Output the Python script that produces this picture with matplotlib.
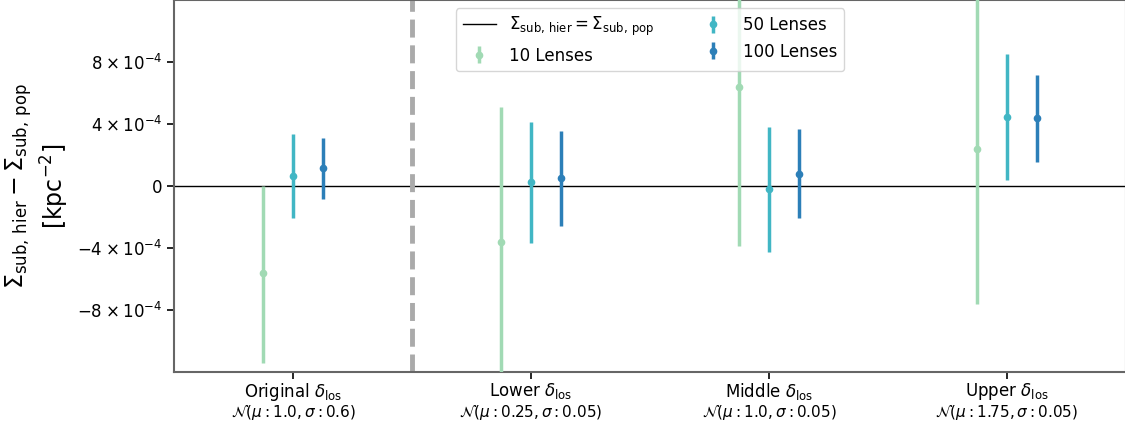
import matplotlib.pyplot as plt
import numpy as np

# categories and priors
categories = [r'Original $\delta_{\rm los}$', r'Lower $\delta_{\rm los}$',
              r'Middle $\delta_{\rm los}$', r'Upper $\delta_{\rm los}$']
priors = [r'$\mathcal{N}(\mu: 1.0, \sigma: 0.6)$', r'$\mathcal{N}(\mu: 0.25, \sigma: 0.05)$',
          r'$\mathcal{N}(\mu: 1.0, \sigma: 0.05)$', r'$\mathcal{N}(\mu: 1.75, \sigma: 0.05)$']

# medians and 1-sigma bounds (units 1e-4 kpc^-2)
med_10 = [-5.59, -3.6, 6.37, 2.41]
lo_10 = [-11.42, -13.5, -3.85, -7.63]
hi_10 = [0.0, 5.12, 13.5, 13.5]

med_50 = [0.66, 0.28, -0.21, 4.43]
lo_50 = [-2.08, -3.68, -4.28, 0.37]
hi_50 = [3.35, 4.15, 3.83, 8.52]

med_100 = [1.14, 0.50, 0.80, 4.39]
lo_100 = [-0.84, -2.58, -2.04, 1.57]
hi_100 = [3.12, 3.55, 3.66, 7.18]

labels = ['10 Lenses', '50 Lenses', '100 Lenses']
colors = ['#a1dab4', '#41b6c4', '#2c7fb8']
offsets = [-0.125, 0.0, 0.125]

fig = plt.figure(figsize=(11.25, 4.23), dpi=100)
ax = fig.add_axes([174 / 1125, 51 / 423, 952 / 1125, 372 / 423])

x = np.arange(len(categories))
ax.axhline(0, color='k', lw=1, label=r'$\Sigma_{\rm sub,\,hier} = \Sigma_{\rm sub,\,pop}$', zorder=1)
ax.axvline(0.5, color='#aaaaaa', ls='--', lw=3.5, zorder=1)

series = [(med_10, lo_10, hi_10), (med_50, lo_50, hi_50), (med_100, lo_100, hi_100)]
for (med, lo, hi), lab, c, off in zip(series, labels, colors, offsets):
    med = np.array(med) * 1e-4
    lo = np.array(lo) * 1e-4
    hi = np.array(hi) * 1e-4
    ax.errorbar(x + off, med, yerr=[med - lo, hi - med], fmt='o', color=c,
                ms=4.5, elinewidth=2.5, capsize=0, label=lab, zorder=3)

ax.set_xlim(-0.5, 3.5)
ax.set_ylim(-1.2e-3, 1.2e-3)
ax.set_xticks(x)
ax.set_xticklabels(categories, fontsize=12)
for xi, p in zip(x, priors):
    ax.text(xi, -0.108, p, transform=ax.get_xaxis_transform(), ha='center', va='center', fontsize=11)

yt = [-8e-4, -4e-4, 0, 4e-4, 8e-4]
ax.set_yticks(yt)
ax.set_yticklabels([r'$-8\:\times\:10^{-4}$', r'$-4\:\times\:10^{-4}$', r'$0$',
                    r'$4\:\times\:10^{-4}$', r'$8\:\times\:10^{-4}$'], fontsize=12)
ax.set_ylabel(r'$\Sigma_{\rm sub,\,hier} - \Sigma_{\rm sub,\,pop}$' + '\n' + r'[kpc$^{-2}$]',
              fontsize=17, labelpad=4)

for s in ax.spines.values():
    s.set_color('#666666')
    s.set_linewidth(1.5)
ax.tick_params(length=5, width=1.2)
ax.tick_params(axis='x', pad=1.5)

ax.legend(loc='upper center', ncol=2, fontsize=12, columnspacing=2.5)

fig.savefig('out.png', dpi=100)
